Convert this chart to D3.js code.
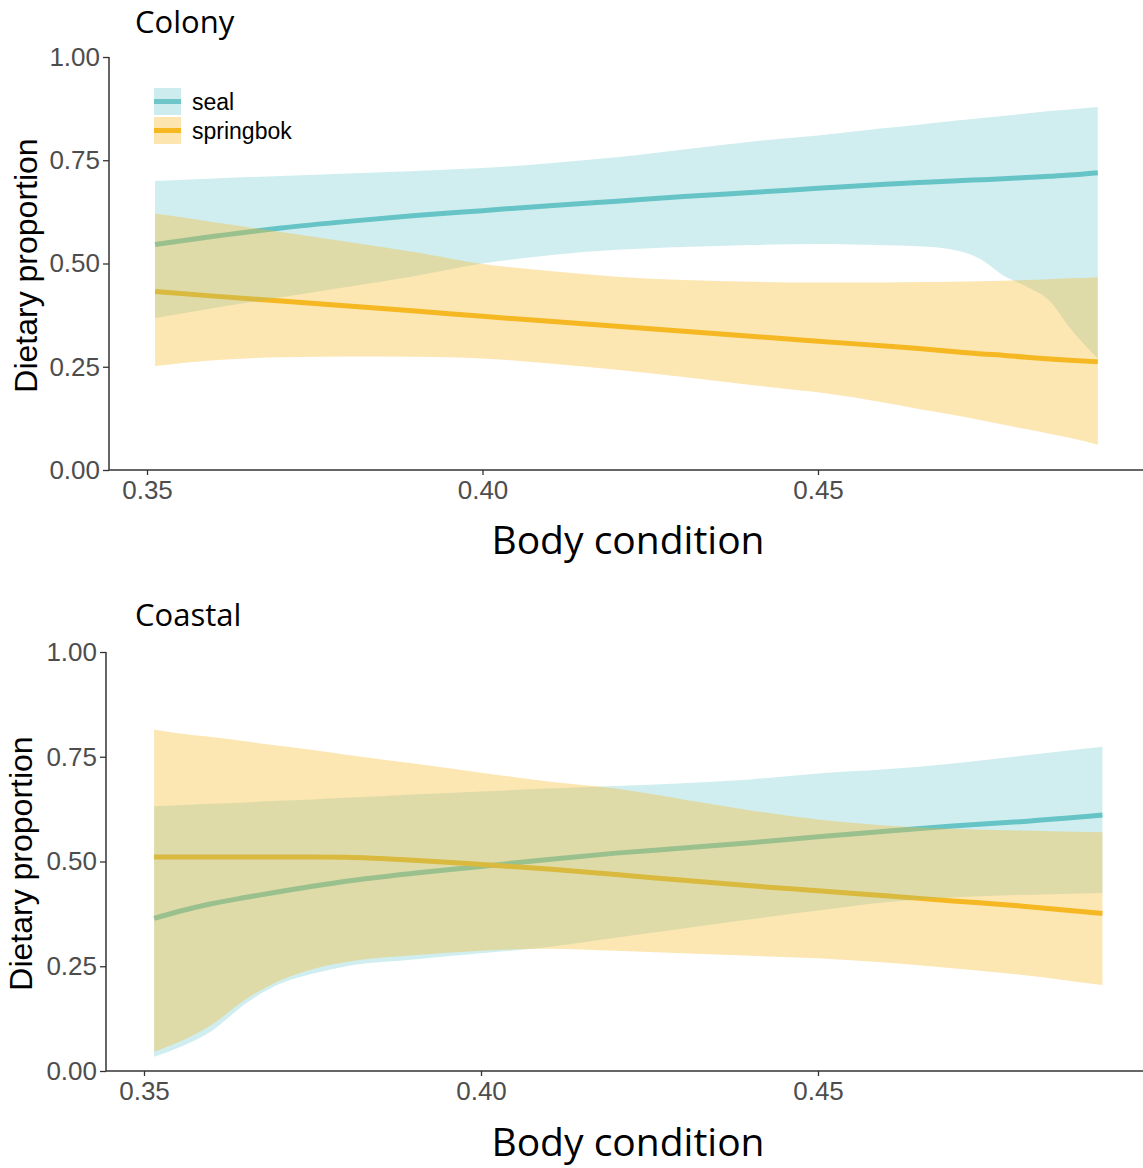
<!DOCTYPE html>
<html>
<head>
<meta charset="utf-8">
<script src="https://cdn.jsdelivr.net/npm/d3@7"></script>
<style>
  html, body { margin: 0; padding: 0; background: #fff; }
  svg { display: block; }
</style>
</head>
<body>
<svg id="chart" width="1143" height="1168"></svg>
<script>
// ---------------- DATA ----------------
const seriesNames = ["seal", "springbok"];
const panelTitles = ["Colony", "Coastal"];
const xTicks = [0.35, 0.40, 0.45];
const yTicks = [0, 0.25, 0.5, 0.75, 1.0];

// Colony panel
const xColony = [0.3512, 0.36, 0.37, 0.38, 0.39, 0.40, 0.41, 0.42, 0.43, 0.44, 0.45, 0.46, 0.465, 0.47, 0.4745, 0.4775, 0.481, 0.4845, 0.4875, 0.4917];
const colonySealFit = [0.546, 0.566, 0.586, 0.602, 0.616, 0.628, 0.640, 0.651, 0.662, 0.672, 0.682, 0.692, 0.696, 0.700, 0.703, 0.705, 0.708, 0.711, 0.714, 0.720];
const colonySealHi  = [0.700, 0.706, 0.712, 0.718, 0.724, 0.731, 0.743, 0.757, 0.776, 0.795, 0.810, 0.828, 0.836, 0.845, 0.852, 0.857, 0.863, 0.869, 0.873, 0.879];
const colonySealLo  = [0.368, 0.392, 0.418, 0.444, 0.470, 0.500, 0.520, 0.533, 0.540, 0.545, 0.547, 0.544, 0.542, 0.534, 0.508, 0.472, 0.445, 0.410, 0.345, 0.270];
const colonySpringFit = [0.432, 0.421, 0.409, 0.397, 0.385, 0.372, 0.360, 0.348, 0.336, 0.324, 0.312, 0.300, 0.294, 0.287, 0.281, 0.278, 0.273, 0.269, 0.266, 0.262];
const colonySpringHi  = [0.621, 0.600, 0.576, 0.552, 0.527, 0.499, 0.482, 0.468, 0.460, 0.456, 0.454, 0.454, 0.455, 0.456, 0.457, 0.458, 0.460, 0.462, 0.464, 0.467];
const colonySpringLo  = [0.252, 0.266, 0.273, 0.275, 0.274, 0.270, 0.258, 0.243, 0.225, 0.206, 0.188, 0.163, 0.148, 0.134, 0.120, 0.110, 0.099, 0.088, 0.078, 0.061];

// Coastal panel
const xCoastal = [0.3515, 0.355, 0.36, 0.365, 0.37, 0.375, 0.38, 0.39, 0.40, 0.41, 0.42, 0.43, 0.44, 0.45, 0.46, 0.47, 0.48, 0.4922];
const coastalSealFit = [0.364, 0.380, 0.399, 0.414, 0.428, 0.441, 0.453, 0.472, 0.488, 0.505, 0.520, 0.532, 0.545, 0.559, 0.572, 0.585, 0.595, 0.611];
const coastalSealHi  = [0.632, 0.634, 0.638, 0.641, 0.645, 0.648, 0.652, 0.660, 0.667, 0.674, 0.680, 0.687, 0.696, 0.710, 0.720, 0.734, 0.752, 0.774];
const coastalSealLo  = [0.034, 0.055, 0.095, 0.160, 0.207, 0.232, 0.250, 0.266, 0.281, 0.296, 0.318, 0.340, 0.362, 0.383, 0.403, 0.414, 0.420, 0.425];
const coastalSpringFit = [0.511, 0.511, 0.511, 0.511, 0.511, 0.511, 0.510, 0.503, 0.493, 0.482, 0.469, 0.455, 0.442, 0.430, 0.418, 0.406, 0.394, 0.376];
const coastalSpringHi  = [0.815, 0.806, 0.797, 0.787, 0.776, 0.766, 0.755, 0.734, 0.712, 0.691, 0.674, 0.648, 0.622, 0.600, 0.586, 0.578, 0.574, 0.570];
const coastalSpringLo  = [0.046, 0.068, 0.110, 0.170, 0.215, 0.243, 0.260, 0.276, 0.287, 0.292, 0.287, 0.281, 0.275, 0.269, 0.259, 0.245, 0.230, 0.205];

// ---------------- STYLE ----------------
const lineColor = { seal: "#6ec6c8", springbok: "#f5b820" };
const fillColor = { seal: "#52bfc4", springbok: "#f8bb2a" };
const fillOpacity = { seal: 0.27, springbok: 0.36 };
const tickFont = "'Liberation Sans', Arial, sans-serif";
const titleFont = "'Open Sans', 'Noto Sans', sans-serif";

const svg = d3.select("#chart");

function zip(xs, fit, lo, hi) {
  return xs.map((x, i) => ({ x, fit: fit[i], lo: lo[i], hi: hi[i] }));
}

const panels = [
  {
    title: panelTitles[0],
    axisX: 109, xRange: [147, 818], yRange: [470, 57],
    titleY: 33, xLabelY: 554, yLabelX: 37, legend: true,
    data: {
      seal: zip(xColony, colonySealFit, colonySealLo, colonySealHi),
      springbok: zip(xColony, colonySpringFit, colonySpringLo, colonySpringHi)
    }
  },
  {
    title: panelTitles[1],
    axisX: 106, xRange: [144, 818], yRange: [1071, 652],
    titleY: 626, xLabelY: 1156, yLabelX: 32, legend: false,
    data: {
      seal: zip(xCoastal, coastalSealFit, coastalSealLo, coastalSealHi),
      springbok: zip(xCoastal, coastalSpringFit, coastalSpringLo, coastalSpringHi)
    }
  }
];

panels.forEach(p => {
  const x = d3.scaleLinear().domain([0.35, 0.45]).range(p.xRange);
  const y = d3.scaleLinear().domain([0, 1]).range(p.yRange);
  const g = svg.append("g");

  const line = d3.line().x(d => x(d.x)).y(d => y(d.fit)).curve(d3.curveMonotoneX);
  const area = d3.area().x(d => x(d.x)).y0(d => y(d.lo)).y1(d => y(d.hi)).curve(d3.curveMonotoneX);

  // lines beneath ribbons (as in the source)
  seriesNames.forEach(s => {
    g.append("path").datum(p.data[s])
      .attr("d", line)
      .attr("fill", "none")
      .attr("stroke", lineColor[s])
      .attr("stroke-width", 5);
  });
  seriesNames.forEach(s => {
    g.append("path").datum(p.data[s])
      .attr("d", area)
      .attr("fill", fillColor[s])
      .attr("fill-opacity", fillOpacity[s])
      .attr("stroke", "none");
  });

  // axes
  const yAxis = g.append("g")
    .attr("transform", `translate(${p.axisX},0)`)
    .call(d3.axisLeft(y).tickValues(yTicks).tickFormat(d3.format(".2f")).tickSize(6).tickPadding(3));
  const xAxis = g.append("g")
    .attr("transform", `translate(0,${p.yRange[0]})`)
    .call(d3.axisBottom(x).tickValues(xTicks).tickFormat(d3.format(".2f")).tickSize(5).tickPadding(6));

  [yAxis, xAxis].forEach(a => {
    a.select(".domain").remove();
    a.selectAll(".tick line").attr("stroke", "#333").attr("stroke-width", 1.3);
    a.selectAll(".tick text")
      .attr("fill", "#4d4d4d")
      .style("font-family", tickFont)
      .style("font-size", "26px");
  });
  // axis lines
  g.append("line")
    .attr("x1", p.axisX).attr("x2", p.axisX)
    .attr("y1", p.yRange[1]).attr("y2", p.yRange[0])
    .attr("stroke", "#333").attr("stroke-width", 1.5);
  g.append("line")
    .attr("x1", p.axisX).attr("x2", 1143)
    .attr("y1", p.yRange[0]).attr("y2", p.yRange[0])
    .attr("stroke", "#333").attr("stroke-width", 1.5);

  // titles
  g.append("text")
    .attr("x", 135).attr("y", p.titleY)
    .style("font-family", titleFont).style("font-size", "31px")
    .attr("fill", "#000")
    .text(p.title);

  g.append("text")
    .attr("x", 628).attr("y", p.xLabelY)
    .attr("text-anchor", "middle")
    .style("font-family", titleFont).style("font-size", "39px")
    .attr("fill", "#000")
    .text("Body condition");

  const yMid = (p.yRange[0] + p.yRange[1]) / 2 + 2;
  g.append("text")
    .attr("transform", `translate(${p.yLabelX},${yMid}) rotate(-90)`)
    .attr("text-anchor", "middle")
    .style("font-family", tickFont).style("font-size", "32px")
    .attr("fill", "#000")
    .text("Dietary proportion");

  if (p.legend) {
    const lg = g.append("g").attr("transform", "translate(154,88)");
    seriesNames.forEach((s, i) => {
      const row = lg.append("g").attr("transform", `translate(0,${i * 29})`);
      row.append("rect").attr("width", 27).attr("height", 27)
        .attr("fill", fillColor[s]).attr("fill-opacity", fillOpacity[s] + 0.02);
      row.append("line").attr("x1", 0).attr("x2", 27).attr("y1", 13.5).attr("y2", 13.5)
        .attr("stroke", lineColor[s]).attr("stroke-width", 5);
      row.append("text").attr("x", 38).attr("y", 13.5)
        .attr("dy", "0.35em")
        .style("font-family", tickFont).style("font-size", "23px")
        .attr("fill", "#000")
        .text(s);
    });
  }
});
</script>
</body>
</html>
